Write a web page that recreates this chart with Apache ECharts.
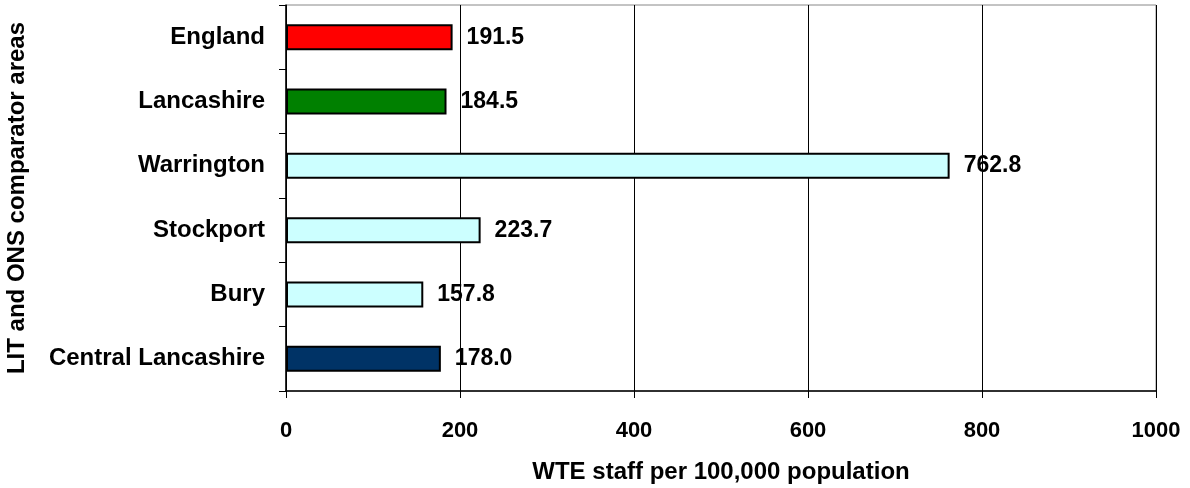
<!DOCTYPE html>
<html><head><meta charset="utf-8">
<script src="https://cdn.jsdelivr.net/npm/echarts@6/dist/echarts.min.js"></script>
<style>html,body{margin:0;padding:0;background:#fff}#c{width:1190px;height:488px}</style>
</head><body><div id="c"></div>
<script>
const categories = ['England','Lancashire','Warrington','Stockport','Bury','Central Lancashire'];
const values = [191.5, 184.5, 762.8, 223.7, 157.8, 178.0];
const barColors = ['#FF0000','#008000','#CCFFFF','#CCFFFF','#CCFFFF','#003366'];
const xTicks = {min:0, max:1000, interval:200};
const xTitle = 'WTE staff per 100,000 population';
const yTitle = 'LIT and ONS comparator areas';

const chart = echarts.init(document.getElementById('c'), null, {renderer:'canvas'});
const font = 'Liberation Sans, Arial, sans-serif';
chart.setOption({
  animation:false,
  backgroundColor:'#fff',
  grid:{left:286, right:34, top:5, bottom:97, show:true, borderColor:'#888', borderWidth:1,
    containLabel:false, outerBoundsMode:'none'},
  xAxis:{type:'value', min:xTicks.min, max:xTicks.max, interval:xTicks.interval,
    name:xTitle, nameLocation:'middle', nameGap:69,
    nameTextStyle:{fontFamily:font, fontWeight:'bold', fontSize:24, color:'#000'},
    axisLine:{show:true, lineStyle:{color:'#000', width:1.5}},
    axisTick:{show:true, length:7, lineStyle:{color:'#000'}},
    axisLabel:{fontFamily:font, fontWeight:'bold', fontSize:22, color:'#000', margin:29,
      formatter:v=>String(v)},
    splitLine:{show:true, lineStyle:{color:'#000', width:1}}
  },
  yAxis:{type:'category', data:categories, inverse:true,
    name:yTitle, nameLocation:'middle', nameGap:257, nameRotate:90,
    nameTextStyle:{fontFamily:font, fontWeight:'bold', fontSize:24, color:'#000'},
    axisLine:{show:true, lineStyle:{color:'#000', width:1.5}},
    axisTick:{show:true, length:7, lineStyle:{color:'#000'}},
    axisLabel:{fontFamily:font, fontWeight:'bold', fontSize:24, color:'#000', margin:21}
  },
  series:[{type:'bar', barWidth:26,
    data:values.map((v,i)=>({value:v, itemStyle:{color:barColors[i], borderColor:'#000', borderWidth:2}})),
    label:{show:true, position:'right', distance:14, formatter:p=>p.value.toFixed(1),
      fontFamily:font, fontWeight:'bold', fontSize:23, color:'#000'}
  }]
});
</script></body></html>
